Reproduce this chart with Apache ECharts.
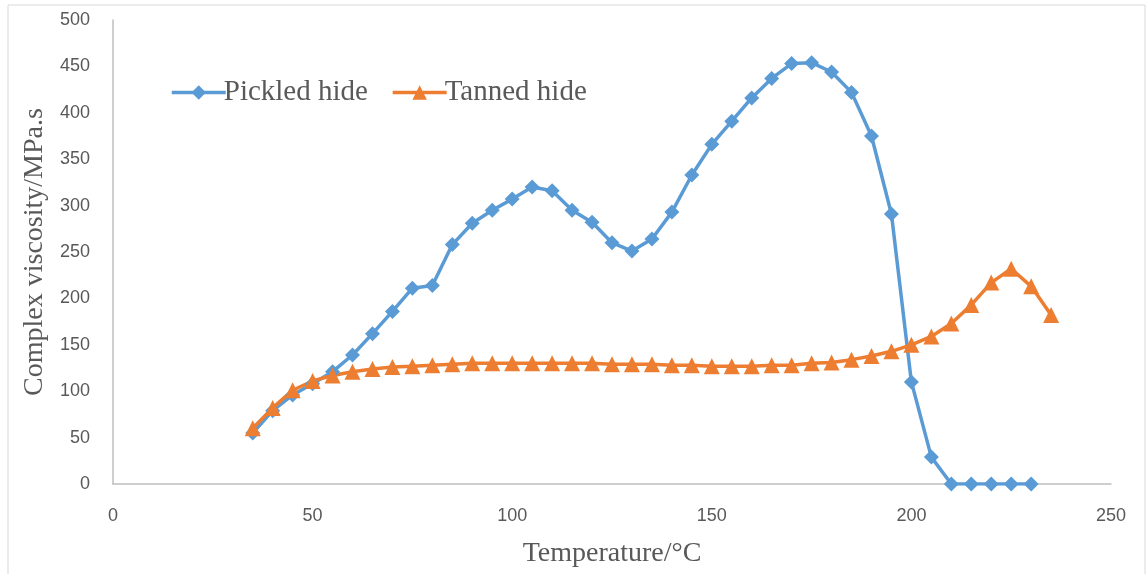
<!DOCTYPE html>
<html>
<head>
    <meta charset="UTF-8">
    <title>Complex viscosity</title>
    <script src="https://cdn.jsdelivr.net/npm/echarts@6/dist/echarts.min.js"></script>
</head>
<body style="margin: 0; background: #fff;">
<div id="container" style="width: 1147px; height: 574px;"></div>
<script type="text/javascript">

    // temperature (°C) and complex viscosity (MPa.s)
    var pickledTemps = [35, 40, 45, 50, 55, 60, 65, 70, 75, 80, 85, 90, 95, 100, 105, 110, 115, 120, 125, 130,
        135, 140, 145, 150, 155, 160, 165, 170, 175, 180, 185, 190, 195, 200, 205, 210, 215, 220, 225, 230];
    var pickledVisc = [55, 79, 96, 108, 121, 139, 162, 186, 211, 214, 258, 281, 295, 307, 320, 316, 295, 282, 260, 251,
        264, 293, 333, 366, 391, 416, 437, 453, 454, 444, 422, 375, 291, 110, 29, 0, 0, 0, 0, 0];

    var tannedTemps = [35, 40, 45, 50, 55, 60, 65, 70, 75, 80, 85, 90, 95, 100, 105, 110, 115, 120, 125, 130,
        135, 140, 145, 150, 155, 160, 165, 170, 175, 180, 185, 190, 195, 200, 205, 210, 215, 220, 225, 230, 235];
    var tannedVisc = [60, 82, 101, 111, 117, 121, 124, 126, 127, 128, 129, 130, 130, 130, 130, 130, 130, 130, 129, 129,
        129, 128, 128, 127, 127, 127, 128, 128, 130, 131, 134, 138, 143, 150, 159, 173, 193, 217, 232, 213, 182];

    var xTicks = [0, 50, 100, 150, 200, 250];
    var yTicks = [0, 50, 100, 150, 200, 250, 300, 350, 400, 450, 500];

    function pairs(xs, ys) {
        var out = [];
        for (var i = 0; i < xs.length; i++) {
            out.push([xs[i], ys[i]]);
        }
        return out;
    }

    var labelColor = '#595959';
    var serif = '"Liberation Serif", "Times New Roman", serif';

    var myChart = echarts.init(document.getElementById('container'));

    var option = {
        animation: false,
        color: ['#5B9BD5', '#ED7D31'],
        graphic: [{
            type: 'rect',
            shape: {x: 8, y: 5, width: 1137, height: 600},
            style: {fill: 'none', stroke: '#d9d9d9', lineWidth: 1},
            silent: true
        }],
        grid: {
            left: 113,
            top: 20,
            width: 998,
            height: 464,
            containLabel: false
        },
        legend: {
            left: 165,
            top: 73,
            itemWidth: 54,
            itemHeight: 18,
            itemGap: 23,
            lineStyle: {width: 3.5},
            textStyle: {
                fontFamily: serif,
                fontSize: 29,
                color: labelColor,
                padding: [0, 0, 0, -7]
            },
            data: ['Pickled hide', 'Tanned hide']
        },
        xAxis: {
            type: 'value',
            min: xTicks[0],
            max: xTicks[xTicks.length - 1],
            interval: xTicks[1] - xTicks[0],
            name: 'Temperature/°C',
            nameLocation: 'middle',
            nameGap: 56,
            nameTextStyle: {fontFamily: serif, fontSize: 28, color: labelColor},
            axisLine: {show: true, lineStyle: {color: '#bfbfbf', width: 1.5}},
            axisTick: {show: false},
            splitLine: {show: false},
            axisLabel: {
                margin: 23,
                fontFamily: '"Liberation Sans", Arial, sans-serif',
                fontSize: 18,
                color: labelColor
            }
        },
        yAxis: {
            type: 'value',
            min: yTicks[0],
            max: yTicks[yTicks.length - 1],
            interval: yTicks[1] - yTicks[0],
            name: 'Complex viscosity/MPa.s',
            nameLocation: 'middle',
            nameGap: 64,
            nameTextStyle: {fontFamily: serif, fontSize: 28, color: labelColor},
            axisLine: {show: true, lineStyle: {color: '#bfbfbf', width: 1.5}},
            axisTick: {show: false},
            splitLine: {show: false},
            axisLabel: {
                margin: 23,
                fontFamily: '"Liberation Sans", Arial, sans-serif',
                fontSize: 18,
                color: labelColor
            }
        },
        series: [
            {
                name: 'Pickled hide',
                type: 'line',
                symbol: 'diamond',
                symbolSize: 15,
                lineStyle: {width: 3.5},
                data: pairs(pickledTemps, pickledVisc)
            },
            {
                name: 'Tanned hide',
                type: 'line',
                symbol: 'triangle',
                symbolSize: 16,
                lineStyle: {width: 3.5},
                data: pairs(tannedTemps, tannedVisc)
            }
        ]
    };

    myChart.setOption(option, true);
</script>
</body>
</html>
